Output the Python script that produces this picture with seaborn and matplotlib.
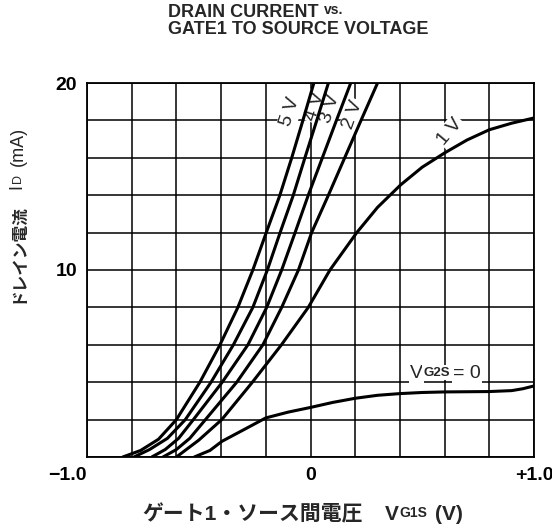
import matplotlib
matplotlib.use("Agg")
import matplotlib.pyplot as plt
import numpy as np
import pandas as pd
import seaborn as sns

sns.set_style("white")
plt.rcParams["font.family"] = ["Liberation Sans", "Noto Sans CJK JP", "DejaVu Sans"]

# drain current (mA) vs gate1-source voltage (V), one pair per VG2S curve
VG1S_5V = [-0.84, -0.76, -0.68, -0.60, -0.495, -0.405, -0.325, -0.258, -0.198, -0.137, -0.084, -0.034, 0.015]
ID_5V = [0, 0.35, 0.95, 2, 4, 6, 8, 10, 12, 14, 16, 18, 20]
VG1S_4V = [-0.79, -0.72, -0.64, -0.56, -0.445, -0.345, -0.258, -0.193, -0.136, -0.077, -0.025, 0.028, 0.08]
ID_4V = [0, 0.4, 1.0, 2, 4, 6, 8, 10, 12, 14, 16, 18, 20]
VG1S_3V = [-0.71, -0.65, -0.59, -0.524, -0.395, -0.28, -0.196, -0.129, -0.069, -0.01, 0.053, 0.116, 0.18]
ID_3V = [0, 0.4, 1.0, 2, 4, 6, 8, 10, 12, 14, 16, 18, 20]
VG1S_2V = [-0.66, -0.60, -0.54, -0.47, -0.33, -0.213, -0.129, -0.054, 0.005, 0.08, 0.153, 0.226, 0.30]
ID_2V = [0, 0.4, 1.0, 2, 4, 6, 8, 10, 12, 14, 16, 18, 20]
VG1S_1V = [-0.60, -0.50, -0.397, -0.26, -0.13, -0.01, 0.087, 0.207, 0.30, 0.404, 0.50, 0.60, 0.70, 0.80, 0.90, 1.0]
ID_1V = [0, 0.9, 2, 4, 6, 8, 10, 12, 13.35, 14.56, 15.5, 16.26, 16.95, 17.5, 17.85, 18.13]
VG1S_0V = [-0.52, -0.45, -0.396, -0.30, -0.20, -0.10, 0.0, 0.10, 0.20, 0.30, 0.40, 0.50, 0.60, 0.70, 0.80, 0.90, 0.95, 1.0]
ID_0V = [0, 0.35, 0.84, 1.45, 2.09, 2.4, 2.65, 2.92, 3.14, 3.3, 3.39, 3.45, 3.48, 3.49, 3.5, 3.55, 3.65, 3.8]

CURVES = {
    "5V": (VG1S_5V, ID_5V),
    "4V": (VG1S_4V, ID_4V),
    "3V": (VG1S_3V, ID_3V),
    "2V": (VG1S_2V, ID_2V),
    "1V": (VG1S_1V, ID_1V),
    "0V": (VG1S_0V, ID_0V),
}

X_TICKS = np.linspace(-1.0, 1.0, 11)
Y_TICKS = np.linspace(0, 20, 11)


def px(x, y):
    # figure fraction from pixel position (origin top-left)
    return x / 552, 1 - y / 528


frames = [pd.DataFrame({"vg1s": xs, "id": ys, "curve": name}) for name, (xs, ys) in CURVES.items()]
df = pd.concat(frames, ignore_index=True)

fig = plt.figure(figsize=(5.52, 5.28), dpi=100)
ax = fig.add_axes([87 / 552, 71 / 528, 447 / 552, 374 / 528])

sns.lineplot(data=df, x="vg1s", y="id", units="curve", estimator=None, sort=False,
             color="black", linewidth=2.2, ax=ax, zorder=2)

ax.set_xlim(-1.0, 1.0)
ax.set_ylim(0, 20)
ax.set_xticks(X_TICKS)
ax.set_yticks(Y_TICKS)
ax.set_xticklabels(["\u22121.0" if np.isclose(t, -1) else "0" if np.isclose(t, 0) else "+1.0" if np.isclose(t, 1) else "" for t in X_TICKS])
ax.set_yticklabels(["20" if np.isclose(t, 20) else "10" if np.isclose(t, 10) else "" for t in Y_TICKS])
ax.xaxis.get_majorticklabels()[0].set_ha("right")
ax.tick_params(length=0, labelsize=14, pad=7, labelcolor="black")
for lab in ax.get_xticklabels() + ax.get_yticklabels():
    lab.set_fontweight("bold")
ax.set_axisbelow(True)
ax.grid(True, color="black", linewidth=1.1)
for sp in ax.spines.values():
    sp.set_color("black")
    sp.set_linewidth(1.3)
ax.set_xlabel("")
ax.set_ylabel("")

# curve labels
box = dict(facecolor="white", edgecolor="none", pad=1)
for txt, x, y, rot in [("5 V", -0.089, 18.47, 72), ("4 V", 0.02, 18.73, 72),
                       ("3 V", 0.09, 18.65, 72), ("2 V", 0.19, 18.29, 70),
                       ("1 V", 0.624, 17.4, 50)]:
    ax.text(x, y, txt, rotation=rot, ha="center", va="center", fontsize=14,
            bbox=box, zorder=1.5)

v = ax.text(0.445, 4.25, "V", ha="left", va="baseline", fontsize=14, bbox=box, zorder=1.5)
sub = ax.annotate("G2S", xy=(1, 0), xycoords=v, xytext=(0.5, 2), textcoords="offset points",
                  ha="left", va="bottom", fontsize=9.5, fontweight="bold", bbox=box, zorder=1.5)
ax.annotate("= 0", xy=(1, 0), xycoords=sub, xytext=(2, -2), textcoords="offset points",
            ha="left", va="bottom", fontsize=14, bbox=box, zorder=1.5)

# title
t1 = fig.text(*px(168, 17), "DRAIN CURRENT", ha="left", va="baseline", fontsize=13,
              fontweight="bold")
plt.annotate("vs.", xy=(1, 0), xycoords=t1, xytext=(4, 3), textcoords="offset points",
             ha="left", va="bottom", fontsize=10, fontweight="bold")
fig.text(*px(168, 34), "GATE1 TO SOURCE VOLTAGE", ha="left", va="baseline", fontsize=13,
         fontweight="bold")

# x label
jx = fig.text(*px(142, 520), "ゲート1・ソース間電圧", ha="left", va="baseline", fontsize=15,
              fontweight="bold")
vx = plt.annotate("V", xy=(1, 0), xycoords=jx, xytext=(16, 0), textcoords="offset points",
                  ha="left", va="bottom", fontsize=15, fontweight="bold")
gx = plt.annotate("G1S", xy=(1, 0), xycoords=vx, xytext=(0.5, 3), textcoords="offset points",
                  ha="left", va="bottom", fontsize=10, fontweight="bold")
plt.annotate("(V)", xy=(1, 0), xycoords=gx, xytext=(6, -3), textcoords="offset points",
             ha="left", va="bottom", fontsize=15, fontweight="bold")

# y label (rotated)
jy = fig.text(*px(25, 303), "ドレイン電流", rotation=90, ha="right", va="bottom",
              fontsize=12, fontweight="bold")
iy = plt.annotate("I", xy=(1, 1), xycoords=jy, xytext=(0, 10), textcoords="offset points",
                  rotation=90, ha="right", va="bottom", fontsize=13)
dy = plt.annotate("D", xy=(1, 1), xycoords=iy, xytext=(-1, 1), textcoords="offset points",
                  rotation=90, ha="right", va="bottom", fontsize=9)
plt.annotate("(mA)", xy=(1, 1), xycoords=dy, xytext=(2, 6), textcoords="offset points",
             rotation=90, ha="right", va="bottom", fontsize=13)

fig.savefig("out.png", dpi=100)
